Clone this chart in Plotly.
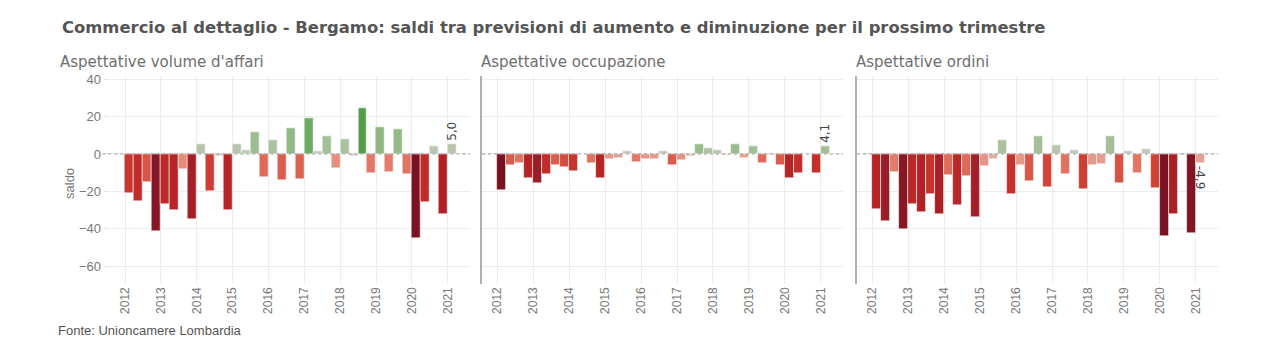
import plotly.graph_objects as go

# ---------------- data ----------------
quarters = [f"{y}-Q{q}" for y in range(2012, 2022) for q in range(1, 5)][:37]
year_ticks = [str(y) for y in range(2012, 2022)]

volume_affari = [-21.2, -25.1, -15.4, -41.6, -26.9, -30.1, -8.0, -34.7,
                 5.3, -19.8, -1.4, -30.1, 5.3, 2.1, 11.5, -12.4,
                 7.6, -14.2, 13.8, -13.5, 19.3, 1.4, 9.7, -7.6,
                 8.1, -1.2, 24.4, -10.4, 14.3, -9.9, 13.1, -11.0,
                 -45.1, -25.7, 4.1, -32.4, 5.0]
occupazione = [-19.5, -6.3, -4.8, -12.9, -15.9, -10.7, -6.1, -7.3,
               -9.5, -0.4, -4.8, -12.9, -2.7, -2.1, 1.4, -4.6,
               -2.7, -2.7, 1.4, -6.3, -3.2, -1.1, 5.4, 3.0,
               2.0, -0.5, 5.4, -2.1, 4.3, -5.2, -0.9, -6.3,
               -13.0, -10.2, -0.3, -10.4, 4.1]
ordini = [-29.8, -35.9, -9.8, -40.5, -27.0, -31.4, -21.3, -32.5,
          -11.6, -27.5, -12.0, -33.8, -6.4, -2.9, 7.3, -21.8,
          -6.1, -14.6, 9.5, -17.7, 4.8, -10.9, 2.0, -18.9,
          -5.9, -5.4, 9.5, -15.5, 1.4, -10.4, 2.5, -18.2,
          -44.1, -32.5, -0.5, -42.3, -4.9]

panel_titles = ["Aspettative volume d'affari", "Aspettative occupazione", "Aspettative ordini"]
title = "Commercio al dettaglio - Bergamo: saldi tra previsioni di aumento e diminuzione per il prossimo trimestre"
source = "Fonte: Unioncamere Lombardia"
y_title = "saldo"
y_tickvals = [40, 20, 0, -20, -40, -60]

# ---------------- style ----------------
OFF = 8                      # default page body margin
W, H = 1280 - 2 * OFF, 361 - 2 * OFF


def px(x):
    return (x - OFF) / W


def py(y):
    return 1 - (y - OFF) / H


colorscale = [
    [0.00, "#7A1223"], [0.07, "#921B29"], [0.16, "#B52325"], [0.25, "#C6302C"],
    [0.30, "#D04537"], [0.36, "#DE6757"], [0.42, "#E8907E"], [0.47, "#DDB1A9"],
    [0.50, "#C9C9C5"], [0.53, "#C1C8BB"], [0.57, "#B0C3A4"], [0.64, "#98BC8A"],
    [0.72, "#6DA862"], [0.78, "#4F9A48"], [1.00, "#246F2C"],
]
panels_px = [(109.6, 470.0), (482.0, 843.0), (857.0, 1218.0)]
plot_top, plot_bottom = 73, 283
xrange = [2011.57, 2021.62]
yrange = [-69.5, 41.6]
grid_col = "#ececec"
tick_font = dict(family="Liberation Sans, Arial, sans-serif", size=12, color="#777777")


def xpos(label):
    y, q = label.split("-Q")
    return int(y) + (int(q) - 1) / 4


def fmt(v):
    return f"{v:.1f}".replace(".", ",")


fig = go.Figure()
series = [volume_affari, occupazione, ordini]
for i, vals in enumerate(series):
    ax = "" if i == 0 else str(i + 1)
    M = max(abs(v) for v in vals)
    text = [""] * (len(vals) - 1) + [fmt(vals[-1])]
    fig.add_trace(go.Bar(
        x=[xpos(q) for q in quarters], y=vals,
        width=0.25, offset=0,
        marker=dict(color=vals, colorscale=colorscale, cmin=-M, cmax=M,
                    line=dict(color="rgba(255,255,255,0.7)", width=0.8)),
        text=text, textposition="outside",
        textangle=-90 if vals[-1] >= 0 else 90,
        textfont=dict(family="DejaVu Sans, sans-serif", size=12, color="#444444"),
        constraintext="none", cliponaxis=False,
        xaxis="x" + ax, yaxis="y" + ax, showlegend=False,
    ))
    x0, x1 = panels_px[i]
    fig.layout["xaxis" + ax] = dict(
        domain=[px(x0), px(x1)], range=xrange, anchor="y" + ax,
        tickvals=[int(t) for t in year_ticks], ticktext=year_ticks, tickangle=-90,
        tickfont=tick_font, showgrid=True, gridcolor=grid_col, gridwidth=1,
        zeroline=False, showline=False, ticks="",
    )
    fig.layout["yaxis" + ax] = dict(
        domain=[py(plot_bottom), py(plot_top)], range=yrange, anchor="x" + ax,
        tickvals=y_tickvals, showticklabels=(i == 0), tickfont=dict(tick_font, size=13),
        ticks="outside" if i == 0 else "", ticklen=5, tickcolor="#e4e4e4",
        showgrid=True, gridcolor=grid_col, gridwidth=1, zeroline=False,
        showline=(i > 0), linecolor="#b0b0b0", linewidth=2,
    )
    fig.add_shape(type="line", xref=f"x{ax} domain", yref="y" + ax,
                  x0=-0.02 if i == 0 else 0, x1=1, y0=0, y1=0,
                  line=dict(color="#9a9a9a", width=1, dash="dot"))
    fig.add_annotation(text=panel_titles[i], xref="paper", yref="paper",
                       x=px([58, 479, 854][i]), y=py(59), xanchor="left", yanchor="middle",
                       showarrow=False,
                       font=dict(family="DejaVu Sans, sans-serif", size=15, color="#6e6e6e"))

fig.add_annotation(text=title, xref="paper", yref="paper", x=px(60), y=py(24),
                   xanchor="left", yanchor="middle", showarrow=False,
                   font=dict(family="DejaVu Sans, sans-serif", size=16.4, color="#555555",
                             weight="bold"))
fig.add_annotation(text=y_title, xref="paper", yref="paper", x=px(70), y=py(182),
                   xanchor="center", yanchor="middle", textangle=-90, showarrow=False,
                   font=dict(family="Liberation Sans, Arial, sans-serif", size=13, color="#777777"))
fig.add_annotation(text=source, xref="paper", yref="paper", x=px(56), y=py(330),
                   xanchor="left", yanchor="middle", showarrow=False,
                   font=dict(family="Liberation Sans, Arial, sans-serif", size=13, color="#555555"))

fig.update_layout(
    width=W, height=H, margin=dict(l=0, r=0, t=0, b=0),
    paper_bgcolor="white", plot_bgcolor="white", bargap=0,
    separators=",.",
)
fig.write_html("out.html")
